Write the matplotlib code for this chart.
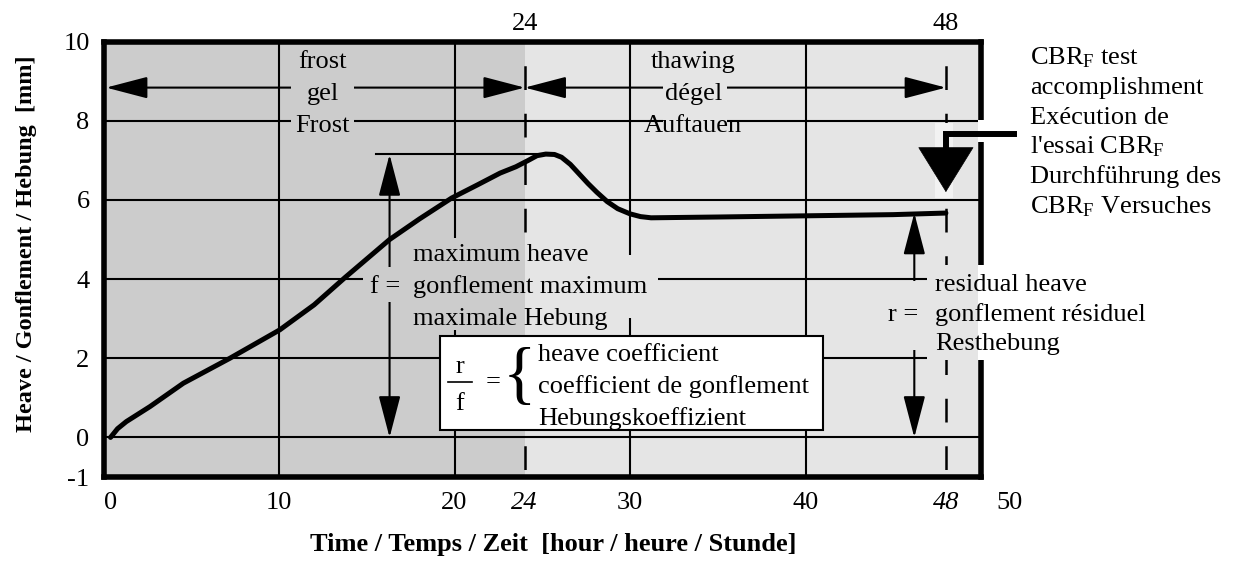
import matplotlib
matplotlib.use("Agg")
import matplotlib.pyplot as plt
from matplotlib.patches import Rectangle, FancyArrowPatch
from matplotlib.transforms import ScaledTranslation

plt.rcParams["font.family"] = ["Liberation Serif", "DejaVu Serif"]
plt.rcParams["mathtext.fontset"] = "custom"
plt.rcParams["mathtext.rm"] = "Liberation Serif"
plt.rcParams["mathtext.it"] = "Liberation Serif:italic"

# heave curve
time_h = [0.4, 0.8, 1.3, 2.65, 4.55, 7.2, 10.05, 12.0, 13.76, 16.3, 18.0, 19.84, 21.3,
          22.6, 23.5, 24.2, 24.7, 25.2, 25.7, 26.1, 26.6, 27.1, 27.6, 28.1, 28.7,
          29.3, 30.0, 30.6, 31.2, 35.0, 40.0, 45.0, 48.0]
heave_mm = [0.0, 0.22, 0.40, 0.78, 1.37, 2.0, 2.72, 3.35, 4.04, 5.0, 5.52, 6.05, 6.38,
            6.68, 6.84, 7.0, 7.12, 7.16, 7.15, 7.08, 6.9, 6.66, 6.42, 6.2, 5.96,
            5.78, 5.65, 5.58, 5.55, 5.57, 5.6, 5.63, 5.67]

f_max = 7.15      # maximum heave
r_res = 5.67      # residual heave
t_frost_end = 24
t_test = 48

xticks = [0, 10, 20, 24, 30, 40, 48, 50]
xticklabels = ["0", "10", "20", "24", "30", "40", "48", "50"]
yticks = [-1, 0, 2, 4, 6, 8, 10]
yticklabels = ["-1", "0", "2", "4", "6", "8", "10"]

DARK = "#cccccc"
LIGHT = "#e5e5e5"
FS = 19

fig = plt.figure(figsize=(12.37, 5.64), dpi=100)
ax = fig.add_axes([103.5 / 1237, 87 / 564, 877.5 / 1237, 435.3 / 564])
ax.set_xlim(0, 50)
ax.set_ylim(-1, 10)

# frost / thaw zones
ax.axvspan(0, t_frost_end, color=DARK, zorder=0, lw=0)
ax.axvspan(t_frost_end, 50, color=LIGHT, zorder=0, lw=0)

# grid
for gx in [10, 20, 30, 40]:
    ax.axvline(gx, color="k", lw=1.5, zorder=1)
for gy in [0, 2, 4, 6, 8]:
    ax.axhline(gy, color="k", lw=1.5, zorder=1)

for tx in [t_frost_end, t_test]:
    ax.plot([tx, tx], [10, -1], color="k", lw=1.8, ls=(9.5, (9.5, 9.5)), zorder=1.2)


def arrow(p0, p1, style="<|-|>", z=1.3):
    ax.add_patch(FancyArrowPatch(p0, p1, arrowstyle=f"{style},head_length=26,head_width=6.8",
                                 mutation_scale=1, lw=1.5, color="k",
                                 shrinkA=0, shrinkB=0, zorder=z))


def mask(x0, x1, y0, y1):
    for a, b, c in [(0, t_frost_end, DARK), (t_frost_end, 49.84, LIGHT), (49.84, 50.3, "white")]:
        lo, hi = max(x0, a), min(x1, b)
        if lo < hi:
            ax.add_patch(Rectangle((lo, y0), hi - lo, y1 - y0, fc=c, ec="none",
                                   zorder=8 if c == "white" else 2, clip_on=False))


# phase arrows
arrow((0.15, 8.84), (t_frost_end, 8.84))
arrow((t_frost_end, 8.84), (t_test, 8.84))
# f and r arrows
arrow((16.3, 0), (16.3, f_max))
arrow((46.2, 0), (46.2, r_res))
ax.plot([15.5, 25.0], [f_max, f_max], color="k", lw=1.5, zorder=1.3)

# text masks
mask(10.7, 14.25, 7.6, 9.95)
mask(31.9, 35.5, 7.6, 9.95)
mask(17.3, 27.9, 4.2, 5.05)
mask(14.8, 17.3, 3.43, 4.3)
mask(17.3, 31.6, 3.02, 4.62)
mask(17.3, 29.0, 2.72, 3.4)
mask(44.8, 46.9, 2.2, 3.95)
mask(46.9, 50.3, 1.95, 4.36)
mask(49.84, 50.3, 7.47, 8.02)
ax.add_patch(Rectangle((47.4, 6.05), 1.0, 1.9, fc="#f2f2f2", ec="none", zorder=2))

# heave curve
ax.plot(time_h, heave_mm, color="k", lw=3.6, solid_capstyle="round",
        solid_joinstyle="round", zorder=3)

# phase texts
for cx, lines in [(12.5, ["frost", "gel", "Frost"]), (33.6, ["thawing", "dégel", "Auftauen"])]:
    for yb, s in zip([9.34, 8.53, 7.73], lines):
        ax.text(cx, yb, s, ha="center", va="baseline", fontsize=FS, zorder=4)

for yb, s in zip([4.45, 3.65, 2.85], ["maximum heave", "gonflement maximum", "maximale Hebung"]):
    ax.text(17.62, yb, s, ha="left", va="baseline", fontsize=FS, zorder=4)
ax.text(16.9, 3.65, "f =", ha="right", va="baseline", fontsize=FS, zorder=4)

for yb, s in zip([3.69, 2.93, 2.22], ["residual heave", "gonflement résiduel", "Resthebung"]):
    ax.text(47.4, yb, s, ha="left", va="baseline", fontsize=FS, zorder=9, clip_on=False)
ax.text(46.45, 2.93, "r =", ha="right", va="baseline", fontsize=FS, zorder=4)

# CBR_F test marker
ax.plot([51.9, t_test, t_test], [7.67, 7.67, 7.25], color="k", lw=4.3,
        solid_joinstyle="miter", clip_on=False, zorder=9)
ax.add_patch(FancyArrowPatch((t_test, 7.4), (t_test, 6.2),
                             arrowstyle="-|>,head_length=31.5,head_width=19.5",
                             mutation_scale=1, lw=0.5, color="k",
                             shrinkA=0, shrinkB=0, zorder=3))
cbr_lines = ["CBR$_\\mathrm{F}$ test", "accomplishment", "Exécution de",
             "l'essai CBR$_\\mathrm{F}$", "Durchführung des", "CBR$_\\mathrm{F}$ Versuches"]
for i, s in enumerate(cbr_lines):
    ax.text(52.8, 9.42 - 0.75 * i, s, ha="left", va="baseline", fontsize=FS, clip_on=False)

# r/f box
ax.add_patch(Rectangle((19.2, 0.2), 41.0 - 19.2, 2.56 - 0.2, fc="white", ec="k", lw=1.5, zorder=5))
ax.text(20.31, 1.63, "r", ha="center", va="baseline", fontsize=FS, zorder=6)
ax.text(20.31, 0.70, "f", ha="center", va="baseline", fontsize=FS, zorder=6)
ax.plot([19.63, 21.0], [1.41, 1.41], color="k", lw=1.2, zorder=6)
ax.text(22.2, 1.41, "=", ha="center", va="center", fontsize=FS, zorder=6)
ax.text(23.7, 1.47, "{", ha="center", va="center", fontsize=50, zorder=6)
for yb, s in zip([1.92, 1.12, 0.32], ["heave coefficient", "coefficient de gonflement", "Hebungskoeffizient"]):
    ax.text(24.75, yb, s, ha="left", va="baseline", fontsize=FS, zorder=6)

# axes styling
for sp in ax.spines.values():
    sp.set_linewidth(4)
    sp.set_zorder(7)
ax.set_xticks(xticks)
ax.set_xticklabels(xticklabels)
ax.set_yticks(yticks)
ax.set_yticklabels(yticklabels)
ax.tick_params(length=0, labelsize=FS)
ax.tick_params(axis="x", pad=11)
ax.tick_params(axis="y", pad=10)
for lab, v in zip(ax.get_xticklabels(), xticks):
    if v in (t_frost_end, t_test):
        lab.set_fontstyle("italic")
    if v == 0:
        lab.set_transform(lab.get_transform() + ScaledTranslation(7 / 100, 0, fig.dpi_scale_trans))
    if v == 50:
        lab.set_transform(lab.get_transform() + ScaledTranslation(29 / 100, 0, fig.dpi_scale_trans))

top = ax.secondary_xaxis("top")
top.set_xticks([t_frost_end, t_test])
top.set_xticklabels(["24", "48"])
top.tick_params(length=0, labelsize=FS, pad=5)
top.spines["top"].set_visible(False)

ax.set_xlabel("Time / Temps / Zeit  [hour / heure / Stunde]", fontsize=19, fontweight="bold")
ax.xaxis.set_label_coords(0.512, -0.129)
ax.set_ylabel("Heave / Gonflement / Hebung  [mm]", fontsize=17.5, fontweight="bold")
ax.yaxis.set_label_coords(-0.0758, 0.535)

fig.savefig("out.png", dpi=100)
